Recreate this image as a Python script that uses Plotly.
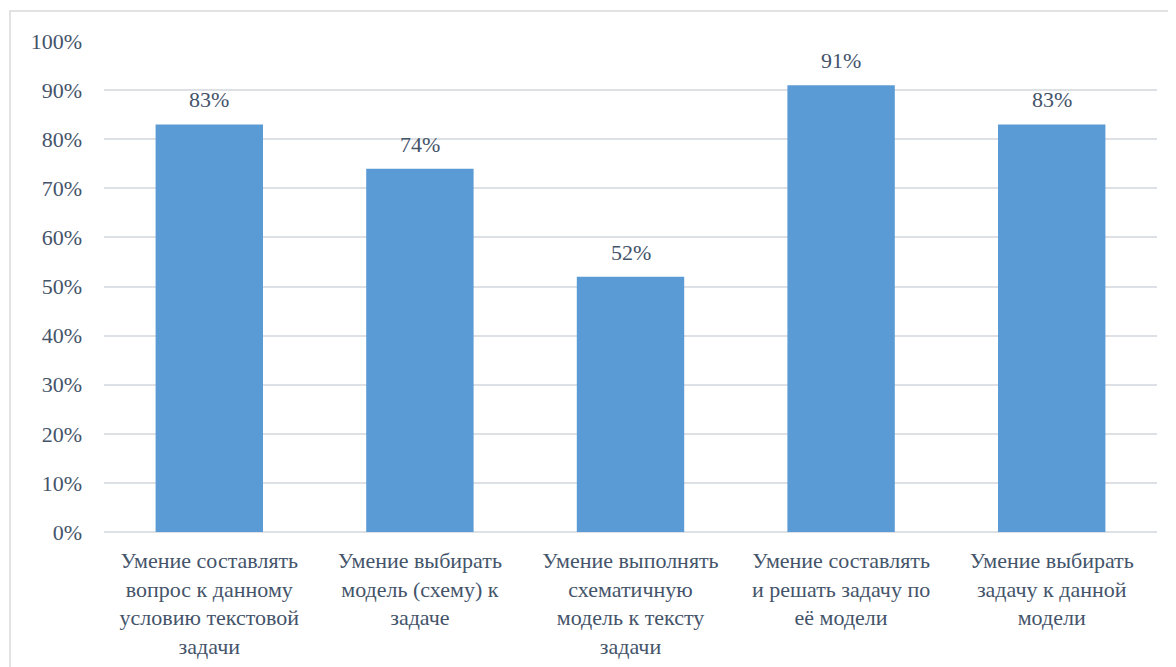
import plotly.graph_objects as go

categories = [
    "Умение составлять<br>вопрос к данному<br>условию текстовой<br>задачи",
    "Умение выбирать<br>модель (схему) к<br>задаче",
    "Умение выполнять<br>схематичную<br>модель к тексту<br>задачи",
    "Умение составлять<br>и решать задачу по<br>её модели",
    "Умение выбирать<br>задачу к данной<br>модели",
]
values = [0.83, 0.74, 0.52, 0.91, 0.83]
value_labels = ["83%", "74%", "52%", "91%", "83%"]
tick_vals = [0, 0.1, 0.2, 0.3, 0.4, 0.5, 0.6, 0.7, 0.8, 0.9, 1.0]

font_family = "'Times New Roman', 'Liberation Serif', 'DejaVu Serif', serif"
text_color = "#44546a"
grid_color = "#dde1e6"
fsize = 22

fig = go.Figure(
    go.Bar(
        x=categories,
        y=values,
        marker=dict(color="#5b9bd5", line=dict(width=0)),
        hoverinfo="skip",
    )
)

annotations = [
    dict(x=c, y=v, text=t, showarrow=False, yanchor="bottom", yshift=10,
         font=dict(family=font_family, size=fsize, color=text_color))
    for c, v, t in zip(categories, values, value_labels)
]

fig.update_layout(
    width=1176,
    height=667,
    margin=dict(l=96, r=27, t=33, b=143),
    paper_bgcolor="white",
    plot_bgcolor="white",
    bargap=0.49,
    showlegend=False,
    font=dict(family=font_family, size=fsize, color=text_color),
    annotations=annotations,
    shapes=[
        dict(
            type="rect", xref="paper", yref="paper",
            x0=-0.0893, x1=1.06, y0=-0.32, y1=1.061,
            line=dict(color="#d9d9d9", width=1.5), fillcolor="rgba(0,0,0,0)",
            layer="below",
        )
    ],
)

fig.update_xaxes(
    showgrid=False, showline=False, ticks="",
    tickfont=dict(family=font_family, size=fsize, color=text_color),
    ticklabelstandoff=13,
)
fig.update_yaxes(
    range=[0, 1], tickvals=tick_vals, tickformat=".0%",
    showgrid=True, gridcolor=grid_color, gridwidth=1.5,
    zeroline=True, zerolinecolor=grid_color, zerolinewidth=1.5,
    showline=False, ticks="", ticklen=0,
    tickfont=dict(family=font_family, size=fsize, color=text_color),
    ticklabelstandoff=21,
)

fig.write_html("out.html")
